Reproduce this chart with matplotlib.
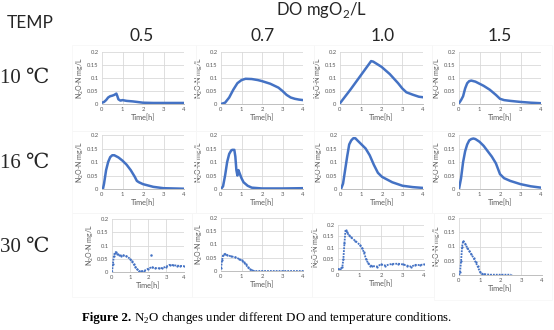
import matplotlib
matplotlib.use("Agg")
import matplotlib.pyplot as plt
from matplotlib.patches import Rectangle

W, H = 554, 330
BLUE = "#4472C4"
GREY = "#595959"
SANS = ["Lato", "DejaVu Sans"]
SERIF = ["Liberation Serif", "DejaVu Serif"]

temps = ["10 \u2103", "16 \u2103", "30 \u2103"]
do_levels = ["0.5", "0.7", "1.0", "1.5"]
y_ticks = [0, 0.05, 0.1, 0.15, 0.2]
y_tick_labels = ["0", "0.05", "0.1", "0.15", "0.2"]
x_ticks = [0, 1, 2, 3, 4]

# 10 C
t_10_05 = [0, 0.1, 0.2, 0.3, 0.4, 0.5, 0.6, 0.7, 0.75, 0.8, 0.9, 1.0, 1.2, 1.5, 2.0, 2.5, 3.0, 3.5, 4.0]
n_10_05 = [0.005, 0.008, 0.015, 0.025, 0.03, 0.032, 0.035, 0.04, 0.03, 0.018, 0.013, 0.015, 0.012, 0.01, 0.005, 0.004, 0.004, 0.004, 0.004]
t_10_07 = [0, 0.2, 0.4, 0.6, 0.8, 1.0, 1.2, 1.5, 1.8, 2.0, 2.4, 2.8, 3.0, 3.2, 3.4, 3.6, 3.8, 4.0]
n_10_07 = [0, 0.005, 0.025, 0.055, 0.08, 0.092, 0.097, 0.096, 0.092, 0.088, 0.078, 0.063, 0.05, 0.035, 0.025, 0.02, 0.017, 0.015]
t_10_10 = [0, 0.5, 1.0, 1.5, 1.6, 2.0, 2.4, 2.8, 3.0, 3.2, 3.5, 3.8, 4.0]
n_10_10 = [0.003, 0.055, 0.11, 0.165, 0.163, 0.143, 0.115, 0.08, 0.06, 0.045, 0.036, 0.028, 0.026]
t_10_15 = [0, 0.1, 0.2, 0.3, 0.4, 0.5, 0.6, 0.8, 1.0, 1.2, 1.5, 1.8, 2.0, 2.2, 2.5, 3.0, 3.5, 4.0]
n_10_15 = [0.003, 0.015, 0.03, 0.06, 0.08, 0.088, 0.09, 0.086, 0.078, 0.07, 0.055, 0.035, 0.02, 0.015, 0.012, 0.008, 0.005, 0.003]

# 16 C
t_16_05 = [0, 0.05, 0.1, 0.2, 0.3, 0.4, 0.5, 0.6, 0.8, 1.0, 1.2, 1.4, 1.6, 1.7, 1.8, 2.0, 2.5, 3.0, 3.5, 4.0]
n_16_05 = [0, 0.002, 0.02, 0.07, 0.1, 0.118, 0.125, 0.125, 0.117, 0.105, 0.09, 0.07, 0.045, 0.03, 0.025, 0.018, 0.008, 0.003, 0.002, 0.001]
t_16_07 = [0, 0.1, 0.2, 0.3, 0.4, 0.5, 0.55, 0.65, 0.7, 0.75, 0.8, 0.85, 0.9, 0.95, 1.0, 1.1, 1.3, 1.5, 2.0, 3.0, 4.0]
n_16_07 = [0, 0.01, 0.05, 0.1, 0.13, 0.143, 0.145, 0.145, 0.12, 0.07, 0.05, 0.07, 0.06, 0.05, 0.04, 0.025, 0.012, 0.005, 0.002, 0.002, 0.003]
t_16_10 = [0, 0.1, 0.2, 0.3, 0.4, 0.5, 0.6, 0.7, 0.8, 1.0, 1.2, 1.4, 1.6, 1.8, 2.0, 2.5, 3.0, 3.5, 4.0]
n_16_10 = [0, 0.02, 0.07, 0.12, 0.165, 0.18, 0.188, 0.188, 0.18, 0.165, 0.15, 0.125, 0.09, 0.06, 0.045, 0.025, 0.012, 0.007, 0.004]
t_16_15 = [0, 0.1, 0.2, 0.3, 0.4, 0.5, 0.6, 0.7, 0.8, 1.0, 1.2, 1.4, 1.6, 1.8, 2.0, 2.2, 2.5, 3.0, 3.5, 4.0]
n_16_15 = [0, 0.04, 0.1, 0.14, 0.165, 0.18, 0.185, 0.187, 0.185, 0.175, 0.16, 0.14, 0.12, 0.095, 0.055, 0.04, 0.03, 0.018, 0.01, 0.005]

# 30 C
t_30_05 = [0, 0.05, 0.1, 0.15, 0.2, 0.3, 0.4, 0.5, 0.6, 0.8, 1.0, 1.1, 1.2, 1.3, 1.4, 1.5, 1.6, 1.8, 2.0, 2.2, 2.4, 2.6, 2.8, 3.0, 3.2, 3.4, 3.6, 3.8, 4.0]
n_30_05 = [0, 0.03, 0.06, 0.072, 0.075, 0.068, 0.065, 0.062, 0.063, 0.06, 0.05, 0.04, 0.03, 0.02, 0.01, 0.003, 0.002, 0.005, 0.012, 0.018, 0.015, 0.014, 0.015, 0.02, 0.027, 0.026, 0.024, 0.023, 0.022]
outlier_t_30_05 = [2.15]
outlier_n_30_05 = [0.065]
t_30_07 = [0, 0.05, 0.1, 0.2, 0.3, 0.5, 0.7, 0.9, 1.0, 1.1, 1.2, 1.3, 1.4, 1.5, 1.6, 2.0, 3.0, 4.0]
n_30_07 = [0.01, 0.04, 0.06, 0.065, 0.06, 0.055, 0.052, 0.045, 0.04, 0.033, 0.025, 0.015, 0.007, 0.002, 0, 0, 0, 0]
t_30_10 = [0, 0.1, 0.2, 0.25, 0.3, 0.35, 0.4, 0.5, 0.6, 0.8, 1.0, 1.1, 1.2, 1.3, 1.4, 1.5, 1.6, 1.8, 2.0, 2.2, 2.5, 2.8, 3.0, 3.2, 3.4, 3.6, 3.8, 4.0]
n_30_10 = [0.003, 0.005, 0.012, 0.05, 0.12, 0.178, 0.17, 0.155, 0.145, 0.13, 0.113, 0.1, 0.08, 0.05, 0.03, 0.02, 0.018, 0.015, 0.025, 0.02, 0.027, 0.028, 0.025, 0.02, 0.015, 0.023, 0.022, 0.025]
t_30_15 = [0, 0.05, 0.1, 0.15, 0.2, 0.3, 0.4, 0.5, 0.6, 0.7, 0.8, 0.9, 1.0, 1.1, 1.2, 1.5, 2.0, 2.5]
n_30_15 = [0, 0.01, 0.05, 0.1, 0.12, 0.11, 0.095, 0.085, 0.072, 0.06, 0.045, 0.03, 0.012, 0.005, 0.003, 0.001, 0.001, 0.001]

series = [
    [(t_10_05, n_10_05), (t_10_07, n_10_07), (t_10_10, n_10_10), (t_10_15, n_10_15)],
    [(t_16_05, n_16_05), (t_16_07, n_16_07), (t_16_10, n_16_10), (t_16_15, n_16_15)],
    [(t_30_05, n_30_05), (t_30_07, n_30_07), (t_30_10, n_30_10), (t_30_15, n_30_15)],
]

# plot areas in pixels: x0, x1, y_top, y_bottom
boxes = [
    [(102, 184, 52, 104), (221, 303, 52, 104), (340, 423, 52, 104), (459, 541, 52, 104)],
    [(102, 184, 135, 189), (221, 303, 135, 189), (341, 423, 135, 189), (459, 541, 135, 189)],
    [(112, 184, 219, 272), (221, 303, 218, 271), (338, 424, 225, 270), (459, 542, 218, 275)],
]
# excel chart frames
frames = [(72, 196, 45, 131), (196, 314, 45, 131), (314, 432, 45, 131), (432, 552, 45, 131),
          (72, 196, 131, 213), (196, 314, 131, 213), (314, 432, 131, 213), (432, 552, 131, 213),
          (72, 192, 213, 297), (192, 312, 213, 297), (312, 434, 213, 297), (434, 552, 213, 300)]

fig = plt.figure(figsize=(W / 100, H / 100), dpi=100)


def fx(px):
    return px / W


def fy(py):
    return 1 - py / H


for x0, x1, y0, y1 in frames:
    fig.patches.append(Rectangle((fx(x0), fy(y1)), fx(x1 - x0), (y1 - y0) / H,
                                 transform=fig.transFigure, fill=False,
                                 edgecolor="#f6f6f6", linewidth=0.5))

for r in range(3):
    for c in range(4):
        x0, x1, y0, y1 = boxes[r][c]
        ax = fig.add_axes([fx(x0), fy(y1), fx(x1 - x0), (y1 - y0) / H])
        t, n = series[r][c]
        if r < 2:
            ax.plot(t, n, color=BLUE, lw=1.8, solid_capstyle="round")
        else:
            ax.plot(t, n, color=BLUE, lw=1.3, ls=(0, (1, 0.6)), marker="o", ms=1.6, mew=0)
        if r == 2 and c == 0:
            ax.plot(outlier_t_30_05, outlier_n_30_05, "o", color=BLUE, ms=1.8, mew=0)
        ax.set_xlim(0, 4)
        ax.set_ylim(0, 0.2)
        ax.set_xticks(x_ticks)
        ax.set_yticks(y_ticks)
        ax.set_yticklabels(y_tick_labels)
        ax.grid(True, color="#d9d9d9", lw=0.6)
        ax.set_axisbelow(True)
        for side in ["top", "right", "left"]:
            ax.spines[side].set_visible(False)
        ax.spines["bottom"].set_color("#bfbfbf")
        ax.spines["bottom"].set_linewidth(0.7)
        ax.tick_params(length=0, pad=2.5, labelsize=4.2, labelcolor=GREY)
        for lab in ax.get_xticklabels() + ax.get_yticklabels():
            lab.set_family(SANS)
        ax.set_xlabel("Time[h]", fontsize=5.3, color=GREY, family=SANS, labelpad=1.2)
        ax.set_ylabel("N$_\\mathregular{2}$O-N mg/L", fontsize=5, color=GREY,
                      family=SANS, labelpad=0.5)

fig.text(fx(30), fy(23), "TEMP", family=SANS, fontsize=12.5, color="#262626",
         ha="center", va="center")
fig.text(fx(322), fy(10), "DO mgO$_\\mathregular{2}$/L", family=SANS, fontsize=12,
         color="#262626", ha="center", va="center")
for label, cx in zip(do_levels, [142, 263, 383, 500]):
    fig.text(fx(cx), fy(36), label, family=SANS, fontsize=12.5, color="#262626",
             ha="center", va="center")
for label, cy in zip(temps, [78, 163, 247]):
    fig.text(fx(25), fy(cy), label, family=SERIF, fontsize=15, color="#262626",
             ha="center", va="center")

# caption: bold figure number followed by plain text
cap = fig.text(fx(82), fy(321), "Figure 2.", family=SERIF, fontsize=9.3,
               weight="bold", ha="left", va="baseline")
fig.canvas.draw()
bb = cap.get_window_extent()
fig.text(bb.x1 / W, fy(321),
         " N$_\\mathregular{2}$O changes under different DO and temperature conditions.",
         family=SERIF, fontsize=9.3, ha="left", va="baseline")

fig.savefig("out.png", dpi=100, facecolor="white")
